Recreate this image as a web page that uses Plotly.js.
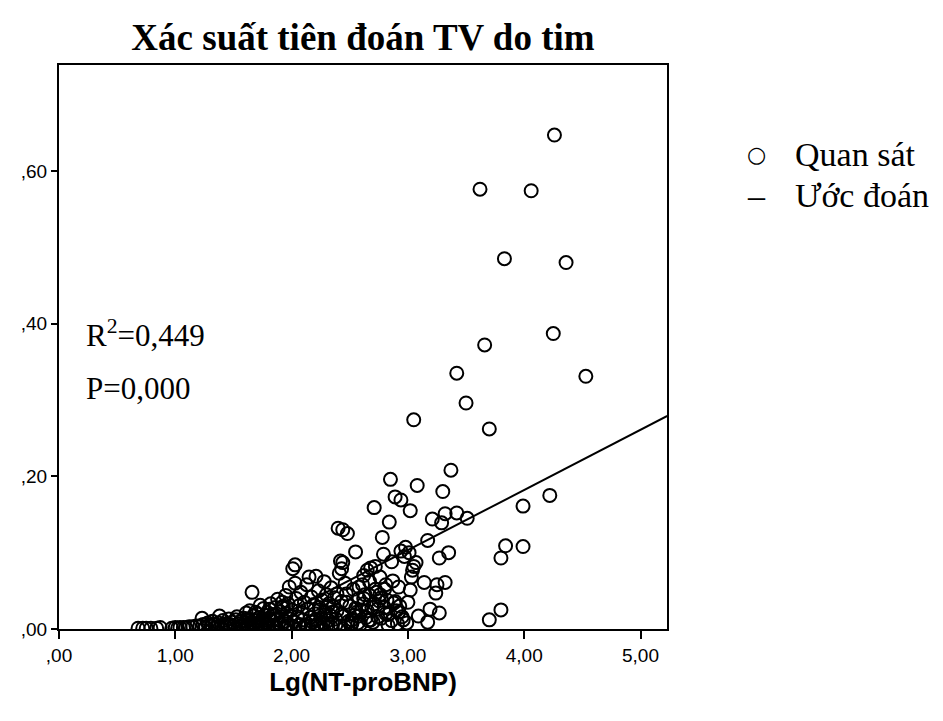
<!DOCTYPE html>
<html>
<head>
<meta charset="utf-8">
<script src="https://cdn.plot.ly/plotly-3.0.1.min.js"></script>
<style>html,body{margin:0;padding:0;background:#fff;}#chart{width:943px;height:721px;}</style>
</head>
<body>
<div id="chart"></div>
<script>
// Observed values (Quan sát): Lg(NT-proBNP) vs predicted probability
const obsX = [
  0.68,0.72,0.75,0.79,0.84,0.87,0.97,1.00,1.02,1.04,1.07,1.09,1.12,1.15,1.18,
  1.21,1.23,1.24,1.26,1.28,1.29,1.31,1.32,1.34,1.36,1.37,1.38,1.40,1.41,1.43,1.44,1.46,1.47,1.49,1.50,1.52,1.53,1.55,1.56,1.58,1.59,
  1.60,1.61,1.62,1.63,1.64,1.65,1.66,1.67,1.68,1.69,1.70,1.71,1.72,1.73,1.74,1.75,1.76,1.77,1.78,1.79,1.80,1.81,1.82,1.83,1.84,1.85,1.86,1.87,1.88,1.89,1.90,1.91,1.92,1.93,1.94,1.95,1.96,1.97,1.98,1.99,
  1.62,1.66,1.70,1.73,1.77,1.80,1.84,1.87,1.91,1.94,1.97,
  2.00,2.01,2.02,2.03,2.04,2.05,2.06,2.07,2.08,2.09,2.10,2.11,2.12,2.13,2.14,2.15,2.16,2.17,2.18,2.19,2.20,2.21,2.22,2.23,2.24,2.25,2.26,2.27,2.28,2.29,2.30,2.31,2.32,2.33,2.34,2.35,2.36,2.37,2.38,2.39,2.40,2.41,2.42,2.43,2.44,2.45,2.46,2.47,2.48,2.49,
  2.02,2.06,2.10,2.14,2.18,2.22,2.26,2.30,2.34,2.38,2.42,2.46,
  2.50,2.52,2.53,2.55,2.56,2.58,2.59,2.61,2.62,2.64,2.65,2.67,2.68,2.70,2.71,2.72,2.74,2.75,2.76,2.78,2.79,2.80,2.81,2.82,2.84,2.85,2.86,2.88,2.89,2.91,2.92,2.94,2.95,2.97,2.98,
  2.51,2.54,2.57,2.60,2.63,2.66,2.69,2.73,2.77,2.83,2.87,2.90,2.93,2.96,2.99,2.94,
  2.21,2.24,2.28,2.31,2.35,2.39,2.43,2.47,2.52,2.55,2.58,2.62,2.65,2.68,2.71,2.74,2.77,2.80,2.83,2.86,2.89,2.92,2.44,2.43,2.58,2.62,2.67,2.72,2.76,2.81,
  1.52,1.57,1.63,1.69,1.75,1.81,1.86,1.92,1.97,2.03,
  3.02,3.05,3.08,3.30,3.37,3.32,3.42,3.21,3.29,3.51,3.17,3.35,3.27,3.07,3.05,3.04,3.03,3.14,3.32,3.25,3.24,3.02,3.19,3.27,3.09,3.17,
  3.80,3.70,3.84,3.99,3.80,3.99,4.22,3.70,3.50,3.42,4.53,3.66,4.25,3.83,4.36,3.62,4.06,4.26,3.01,3.00
];
const obsY = [
  0.001,0.001,0.001,0.001,0.001,0.002,0.001,0.002,0.001,0.002,0.002,0.002,0.003,0.003,0.004,
  0.004,0.014,0.006,0.003,0.008,0.005,0.004,0.010,0.006,0.003,0.008,0.017,0.005,0.011,0.004,0.007,0.013,0.006,0.009,0.004,0.012,0.016,0.007,0.010,0.005,0.014,
  0.008,0.021,0.005,0.013,0.024,0.009,0.048,0.017,0.006,0.011,0.020,0.007,0.015,0.031,0.010,0.004,0.027,0.018,0.009,0.022,0.006,0.014,0.033,0.011,0.019,0.005,0.028,0.012,0.039,0.008,0.023,0.016,0.035,0.030,0.010,0.044,0.020,0.007,0.055,0.013,
  0.002,0.003,0.002,0.004,0.003,0.002,0.004,0.003,0.005,0.003,0.004,
  0.025,0.079,0.010,0.084,0.040,0.016,0.030,0.006,0.048,0.021,0.012,0.035,0.004,0.058,0.026,0.068,0.015,0.042,0.009,0.032,0.020,0.069,0.005,0.050,0.028,0.014,0.038,0.008,0.062,0.022,0.045,0.011,0.033,0.018,0.054,0.007,0.029,0.041,0.013,0.024,0.132,0.073,0.089,0.036,0.130,0.017,0.060,0.046,0.125,0.010,
  0.003,0.005,0.002,0.004,0.003,0.006,0.002,0.004,0.003,0.005,0.004,0.003,
  0.030,0.012,0.052,0.101,0.022,0.040,0.006,0.058,0.033,0.015,0.077,0.044,0.080,0.009,0.159,0.082,0.026,0.037,0.068,0.120,0.098,0.052,0.020,0.038,0.140,0.196,0.088,0.034,0.173,0.007,0.055,0.102,0.016,0.095,0.107,
  0.004,0.018,0.008,0.025,0.045,0.011,0.028,0.048,0.014,0.005,0.063,0.024,0.030,0.012,0.008,0.169,
  0.012,0.025,0.018,0.030,0.022,0.046,0.020,0.035,0.008,0.027,0.017,0.040,0.024,0.012,0.033,0.016,0.041,0.028,0.019,0.011,0.036,0.022,0.087,0.079,0.055,0.070,0.062,0.052,0.045,0.058,
  0.002,0.003,0.012,0.022,0.014,0.026,0.018,0.028,0.033,0.060,
  0.155,0.274,0.188,0.180,0.208,0.151,0.152,0.144,0.139,0.145,0.116,0.100,0.093,0.087,0.082,0.077,0.068,0.061,0.061,0.058,0.047,0.051,0.026,0.021,0.017,0.009,
  0.025,0.012,0.109,0.108,0.093,0.161,0.175,0.262,0.296,0.335,0.331,0.372,0.387,0.485,0.480,0.576,0.574,0.647,0.100,0.035
];
// Predicted (Ước đoán): fitted line read at the axis ends
const predX = [0.00, 5.23];
const predY = [-0.133, 0.279];

const xTickVals = [0, 1, 2, 3, 4, 5];
const xTickText = [',00', '1,00', '2,00', '3,00', '4,00', '5,00'];
const yTickVals = [0, 0.2, 0.4, 0.6];
const yTickText = [',00', ',20', ',40', ',60'];

const L = 59, R = 276, T = 65, B = 92;
const W = 943, H = 721;
const pw = W - L - R, ph = H - T - B;
const px = v => (v - L) / pw;      // pixel -> paper x
const py = v => (H - B - v) / ph;  // pixel -> paper y

const serif = 'Liberation Serif, Times New Roman, serif';
const sans = 'Liberation Sans, Arial, sans-serif';

const traces = [
  {x: obsX, y: obsY, type: 'scatter', mode: 'markers', name: 'Quan sát',
   marker: {symbol: 'circle-open', size: 13, color: '#000', line: {width: 2, color: '#000'}},
   cliponaxis: true, hoverinfo: 'x+y'},
  {x: predX, y: predY, type: 'scatter', mode: 'lines', name: 'Ước đoán',
   line: {color: '#000', width: 2}, hoverinfo: 'skip'}
];

const layout = {
  width: W, height: H,
  margin: {l: L, r: R, t: T, b: B, pad: 0},
  paper_bgcolor: '#fff', plot_bgcolor: '#fff',
  showlegend: false,
  title: {text: '<b>Xác suất tiên đoán TV do tim</b>', font: {family: serif, size: 37, color: '#000'},
          xref: 'paper', x: 0.5, xanchor: 'center', yref: 'container', y: 1 - 37/721, yanchor: 'middle'},
  xaxis: {range: [0, pw / 116.3], tickvals: xTickVals, ticktext: xTickText,
          showgrid: false, zeroline: false, showline: true, mirror: true, linecolor: '#000', linewidth: 2,
          ticks: 'outside', ticklen: 8, tickwidth: 2, tickcolor: '#000',
          tickfont: {family: sans, size: 19, color: '#000'},
          title: {text: '<b>Lg(NT-proBNP)</b>', font: {family: sans, size: 26, color: '#000'}, standoff: 8}},
  yaxis: {range: [0, ph / 763.5], tickvals: yTickVals, ticktext: yTickText,
          showgrid: false, zeroline: false, showline: true, mirror: true, linecolor: '#000', linewidth: 2,
          ticks: 'outside', ticklen: 6, tickwidth: 2, tickcolor: '#000',
          tickfont: {family: sans, size: 19, color: '#000'}},
  annotations: [
    {xref: 'paper', yref: 'paper', x: px(84), y: py(333), xanchor: 'left', yanchor: 'middle', showarrow: false,
     text: 'R<sup>2</sup>=0,449', font: {family: serif, size: 31, color: '#000'}},
    {xref: 'paper', yref: 'paper', x: px(84), y: py(388), xanchor: 'left', yanchor: 'middle', showarrow: false,
     text: 'P=0,000', font: {family: serif, size: 31, color: '#000'}},
    {xref: 'paper', yref: 'paper', x: px(756), y: py(155), xanchor: 'center', yanchor: 'middle', showarrow: false,
     text: '○', font: {family: 'DejaVu Sans, sans-serif', size: 22, color: '#000'}},
    {xref: 'paper', yref: 'paper', x: px(793), y: py(155), xanchor: 'left', yanchor: 'middle', showarrow: false,
     text: 'Quan sát', font: {family: serif, size: 34, color: '#000'}},
    {xref: 'paper', yref: 'paper', x: px(756), y: py(195), xanchor: 'center', yanchor: 'middle', showarrow: false,
     text: '–', font: {family: serif, size: 34, color: '#000'}},
    {xref: 'paper', yref: 'paper', x: px(793), y: py(195), xanchor: 'left', yanchor: 'middle', showarrow: false,
     text: 'Ước đoán', font: {family: serif, size: 34, color: '#000'}}
  ]
};

Plotly.newPlot('chart', traces, layout, {displayModeBar: false, staticPlot: true});
</script>
</body>
</html>
